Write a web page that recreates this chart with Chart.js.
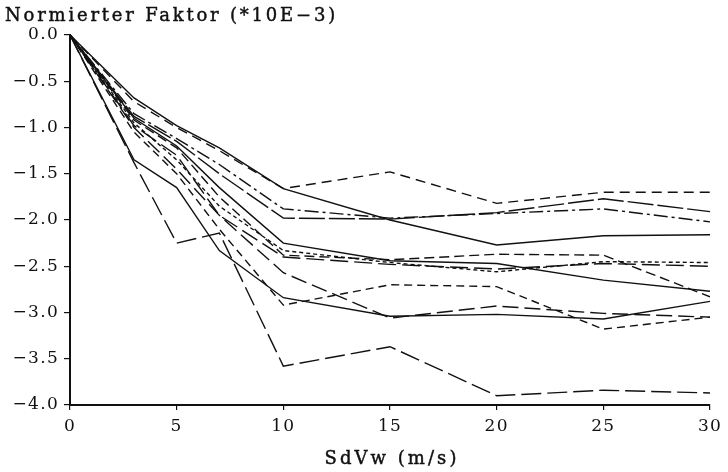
<!DOCTYPE html>
<html lang="de">
<head>
<meta charset="utf-8">
<title>Normierter Faktor</title>
<script src="https://cdn.jsdelivr.net/npm/chart.js@4.4.0/dist/chart.umd.min.js"></script>
<style>
  body { margin: 0; background: #fff; }
  #wrap { width: 728px; height: 472px; }
</style>
</head>
<body>
<div id="wrap"><canvas id="faktorChart" width="728" height="472"></canvas></div>
<script>
// Stützstellen der x-Achse (SdVw in m/s)
const sdVw = [0, 3, 5, 7, 10, 15, 20, 25, 30];

// Kurven (Werte *10E-3)
const kurveA = [0, -0.72, -1.00, -1.25, -1.66, -1.48, -1.82, -1.70, -1.70];
const kurveB = [0, -0.68, -0.98, -1.22, -1.66, -2.00, -2.27, -2.17, -2.16];
const kurveC = [0, -0.85, -1.12, -1.40, -1.88, -1.98, -1.93, -1.88, -2.02];
const kurveD = [0, -0.88, -1.15, -1.50, -1.98, -1.99, -1.92, -1.77, -1.91];
const kurveE = [0, -0.90, -1.20, -1.65, -2.25, -2.44, -2.47, -2.65, -2.77];
const kurveF = [0, -0.95, -1.35, -1.85, -2.33, -2.46, -2.56, -2.45, -2.46];
const kurveG = [0, -0.92, -1.22, -1.75, -2.38, -2.43, -2.37, -2.38, -2.83];
const kurveH = [0, -0.98, -1.30, -1.95, -2.40, -2.48, -2.53, -2.47, -2.50];
const kurveI = [0, -1.00, -1.45, -1.95, -2.57, -3.06, -2.93, -3.01, -3.05];
const kurveJ = [0, -1.35, -1.65, -2.33, -2.84, -3.04, -3.02, -3.07, -2.88];
const kurveK = [0, -1.05, -1.50, -2.10, -2.92, -2.70, -2.72, -3.18, -3.05];
const kurveL = [0, -1.38, -2.25, -2.14, -3.58, -3.37, -3.90, -3.84, -3.87];

// Achsenbeschriftung
const yTicks = [0, -0.5, -1.0, -1.5, -2.0, -2.5, -3.0, -3.5, -4.0];
const xTicks = [0, 5, 10, 15, 20, 25, 30];
const titelText = 'Normierter Faktor (*10E\u22123)';
const xAchseText = 'SdVw (m/s)';

const schrift = "'DejaVu Serif', 'Liberation Serif', serif";
const tinte = '#111';

// Punkte {x,y} aus den Arrays bauen
function punkte(werte) {
    return sdVw.map((x, i) => ({ x: x, y: werte[i] }));
}

function kurve(werte, dash) {
    return {
        data: punkte(werte),
        borderColor: tinte,
        borderWidth: 1.4,
        borderDash: dash,
        pointRadius: 0,
        tension: 0,
        fill: false
    };
}

// Text mit Laufweite so zeichnen, dass er die Breite der Vorlage trifft
function breiterText(c, text, x, y, breite, align) {
    c.letterSpacing = '0px';
    const w = c.measureText(text).width;
    const sp = Math.max(0, (breite - w) / text.length);
    c.letterSpacing = sp.toFixed(2) + 'px';
    c.textAlign = 'left';
    const start = align === 'center' ? x - breite / 2 : x;
    c.fillText(text, start, y);
    c.strokeText(text, start, y); // etwas kraeftiger, wie Schreibmaschine
}

// Schreibmaschinen-Look: etwas Laufweite fuer die Ticks, Titel selbst zeichnen
const beschriftung = {
    id: 'beschriftung',
    beforeDraw(chart) {
        chart.ctx.letterSpacing = '1.3px';
    },
    afterDraw(chart) {
        const c = chart.ctx;
        const area = chart.chartArea;
        c.save();
        c.fillStyle = tinte;
        c.strokeStyle = tinte;
        c.lineWidth = 0.45;
        c.font = '18px ' + schrift;
        c.textBaseline = 'middle';
        breiterText(c, titelText, 5, 16, 333, 'left');
        breiterText(c, xAchseText, (area.left + area.right) / 2 + 2, 459, 135, 'center');
        c.restore();
        c.letterSpacing = '0px';
    }
};

document.addEventListener('DOMContentLoaded', () => {
    const ctx = document.getElementById('faktorChart').getContext('2d');

    new Chart(ctx, {
        type: 'line',
        data: {
            datasets: [
                kurve(kurveA, [10, 6]),
                kurve(kurveB, []),
                kurve(kurveC, [14, 4, 3, 4]),
                kurve(kurveD, [26, 4]),
                kurve(kurveE, []),
                kurve(kurveF, [4, 3]),
                kurve(kurveG, [10, 5]),
                kurve(kurveH, [18, 6]),
                kurve(kurveI, [16, 6]),
                kurve(kurveJ, []),
                kurve(kurveK, [8, 5]),
                kurve(kurveL, [20, 6])
            ]
        },
        plugins: [beschriftung],
        options: {
            responsive: false,
            animation: false,
            layout: { padding: { left: 0, right: 18, top: 35, bottom: 0 } },
            plugins: {
                legend: { display: false },
                tooltip: { enabled: false },
                title: { display: false }
            },
            scales: {
                x: {
                    type: 'linear',
                    min: 0,
                    max: 30,
                    afterBuildTicks: (scale) => { scale.ticks = xTicks.map(v => ({ value: v })); },
                    ticks: {
                        color: tinte,
                        font: { family: schrift, size: 17 },
                        padding: 6,
                        maxRotation: 0,
                        callback: (v) => String(v)
                    },
                    grid: { drawOnChartArea: false, drawTicks: true, tickLength: 5, color: tinte, lineWidth: 1.2 },
                    border: { display: true, color: tinte, width: 2 },
                    afterFit: (scale) => { scale.height = 67; }
                },
                y: {
                    type: 'linear',
                    min: -4,
                    max: 0,
                    afterBuildTicks: (scale) => { scale.ticks = yTicks.map(v => ({ value: v })); },
                    ticks: {
                        color: tinte,
                        font: { family: schrift, size: 17 },
                        padding: 5,
                        callback: (v) => Number(v).toFixed(1).replace('-', '\u2212')
                    },
                    grid: { drawOnChartArea: false, drawTicks: true, tickLength: 6, color: tinte, lineWidth: 1.2 },
                    border: { display: true, color: tinte, width: 2 },
                    afterFit: (scale) => { scale.width = 70; }
                }
            }
        }
    });
});
</script>
</body>
</html>
